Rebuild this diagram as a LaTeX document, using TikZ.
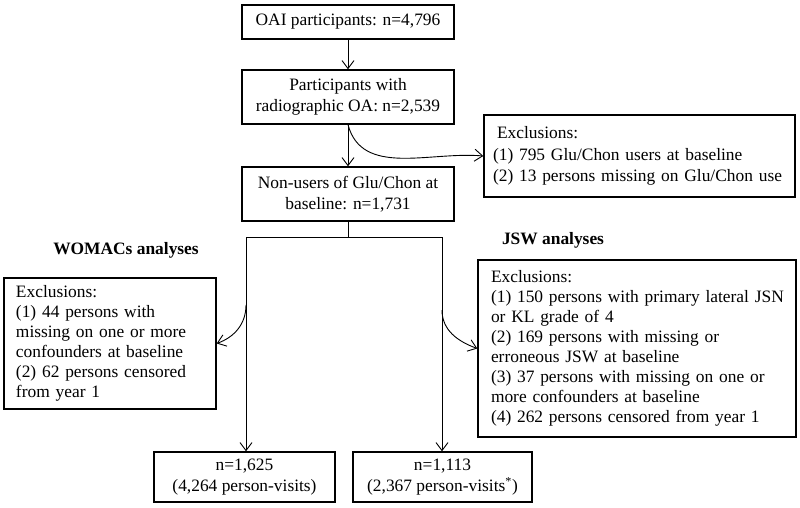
\documentclass[tikz,border=0pt]{standalone}
\usepackage{fontspec}
\setmainfont{Liberation Serif}
\usetikzlibrary{arrows.meta}
\newcommand{\lines}[1]{\begin{tabular}{@{}l@{}}#1\end{tabular}}
\begin{document}
\begin{tikzpicture}[x=1pt,y=1pt,
  txt/.style={font=\fontsize{17.4}{21}\selectfont},
  box/.style={txt, draw, line width=1.4pt, inner sep=0pt, align=center},
  exbox/.style={txt, draw, line width=1.4pt, inner ysep=0pt, align=left},
  head/.style={font=\fontsize{17.4}{21}\selectfont\bfseries},
  conn/.style={line width=0.9pt},
  arr/.style={conn, -{Straight Barb[length=8pt,width=12pt,line width=0.9pt]}}]
\useasboundingbox (0,0) rectangle (800,-508);

\node[box, minimum width=212pt, minimum height=34pt] (oai) at (348,-22) {OAI participants: n=4,796};
\node[box, minimum width=212pt, minimum height=54pt] (rad) at (348,-97) {Participants with\\radiographic OA: n=2,539};
\node[box, minimum width=212pt, minimum height=54pt] (non) at (348,-194) {Non-users of Glu/Chon at\\baseline: n=1,731};

\node[exbox, font=\fontsize{17.4}{21.5}\selectfont, inner xsep=9pt, text width=293pt, minimum height=82pt] (ex1) at (639.5,-156)
  {\lines{\hspace*{4pt}Exclusions:\\(1) 795 Glu/Chon users at baseline\\(2) 13 persons missing on Glu/Chon use}};

\node[head] (womac) at (126,-250) {WOMACs analyses};
\node[head] (jsw) at (553,-240) {JSW analyses};

\node[exbox, font=\fontsize{17.4}{20}\selectfont, inner xsep=12pt, text width=188pt, minimum height=131pt] (lex) at (110,-343.5)
  {\lines{Exclusions:\\(1) 44 persons with\\missing on one or more\\confounders at baseline\\(2) 62 persons censored\\from year 1}};

\node[exbox, font=\fontsize{17.4}{20}\selectfont, inner xsep=13pt, text width=292pt, minimum height=177pt] (jex) at (637,-348.5)
  {\lines{Exclusions:\\(1) 150 persons with primary lateral JSN\\or KL grade of 4\\(2) 169 persons with missing or\\erroneous JSW at baseline\\(3) 37 persons with missing on one or\\more confounders at baseline\\(4) 262 persons censored from year 1}};

\node[box, minimum width=181pt, minimum height=50pt] (wb) at (244.5,-477) {n=1,625\\(4,264 person-visits)};
\node[box, minimum width=179pt, minimum height=50pt] (jb) at (442.5,-477) {n=1,113\\(2,367 person-visits\textsuperscript{*})};

\draw[arr] (oai) -- (rad);
\draw[arr] (rad) -- (non);
\draw[arr] (rad.south) to[out=-75, in=175] (ex1.west);

\coordinate (split) at (348,-237);
\coordinate (L) at (246,-237);
\coordinate (R) at (442,-237);
\draw[conn] (non.south) -- (split);
\draw[conn] (L) -- (R);
\draw[arr] (L) -- (L |- wb.north);
\draw[arr] (R) -- (R |- jb.north);

\coordinate (Lb) at (246,-305);
\coordinate (Rb) at (442,-310);
\draw[arr] (Lb) to[out=-90, in=20] (lex.east);
\draw[arr] (Rb) to[out=-90, in=160] (jex.west);
\end{tikzpicture}
\end{document}
